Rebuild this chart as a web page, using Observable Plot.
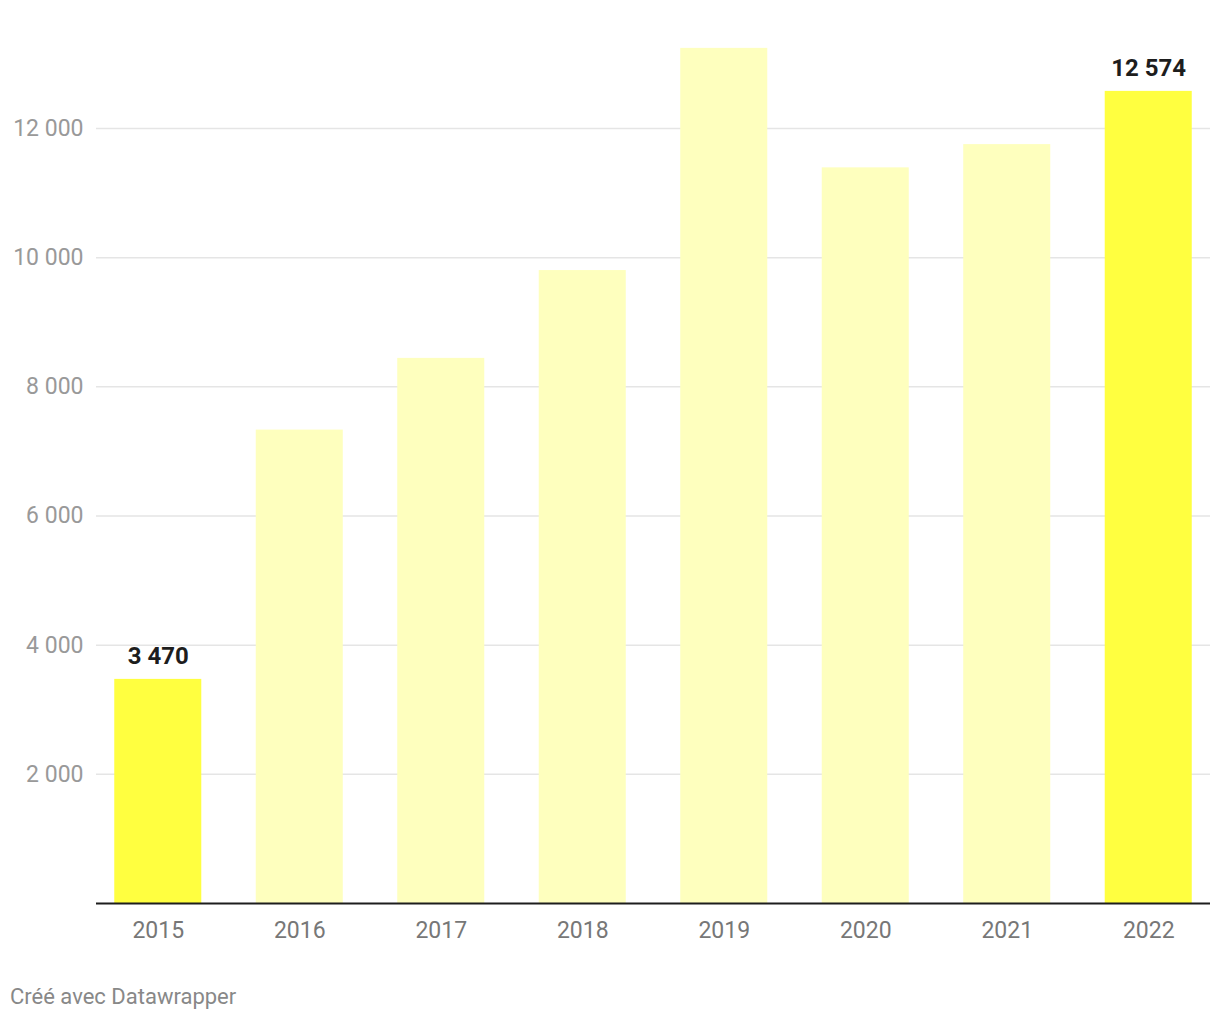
<!DOCTYPE html>
<html>
<head>
<meta charset="utf-8">
<script src="https://cdn.jsdelivr.net/npm/d3@7"></script>
<script src="https://cdn.jsdelivr.net/npm/@observablehq/plot@0.6"></script>
<style>
  html, body { margin: 0; padding: 0; background: #fff; }
  body { font-family: Roboto, "Noto Sans", sans-serif; width: 1220px; }
  #caption { font-size: 22px; color: #888; margin: 24px 0 0 10px; line-height: 1.2; }
</style>
</head>
<body>
<div id="chart"></div>
<div id="caption">Créé avec Datawrapper</div>
<script>
const years = ["2015", "2016", "2017", "2018", "2019", "2020", "2021", "2022"];
const values = [3470, 7330, 8440, 9800, 13240, 11390, 11750, 12574];
const highlighted = ["2015", "2022"];
const yTicks = [2000, 4000, 6000, 8000, 10000, 12000];

const data = years.map((y, i) => ({year: y, value: values[i], hi: highlighted.includes(y)}));
const locale = d3.formatLocale({decimal: ",", thousands: " ", grouping: [3], currency: ["", " €"]});
const fmt = locale.format(",d");

const chart = Plot.plot({
  width: 1220,
  height: 960,
  marginLeft: 96,
  marginRight: 10,
  marginTop: 44,
  marginBottom: 57,
  style: {fontFamily: "Roboto, sans-serif", background: "#fff", overflow: "visible"},
  x: {domain: years, paddingInner: 0.385, paddingOuter: 0.129, round: false, label: null},
  y: {domain: [0, 13300], label: null},
  marks: [
    Plot.ruleY(yTicks, {stroke: "#e5e5e5", strokeWidth: 1.5}),
    Plot.barY(data, {x: "year", y: "value", fill: d => d.hi ? "#ffff40" : "#feffbe"}),
    Plot.ruleY([0], {stroke: "#1d1d1d", strokeWidth: 2}),
    Plot.axisY({ticks: yTicks, tickSize: 0, tickPadding: 13, tickFormat: fmt, fontSize: 23, color: "#999", label: null}),
    Plot.axisX({tickSize: 0, tickPadding: 18, fontSize: 23, color: "#777", label: null}),
    Plot.text(data.filter(d => d.hi), {x: "year", y: "value", text: d => fmt(d.value), dy: -23, fontSize: 24, fontWeight: "bold", fill: "#1d1d1d"})
  ]
});
document.getElementById("chart").appendChild(chart);
</script>
</body>
</html>
